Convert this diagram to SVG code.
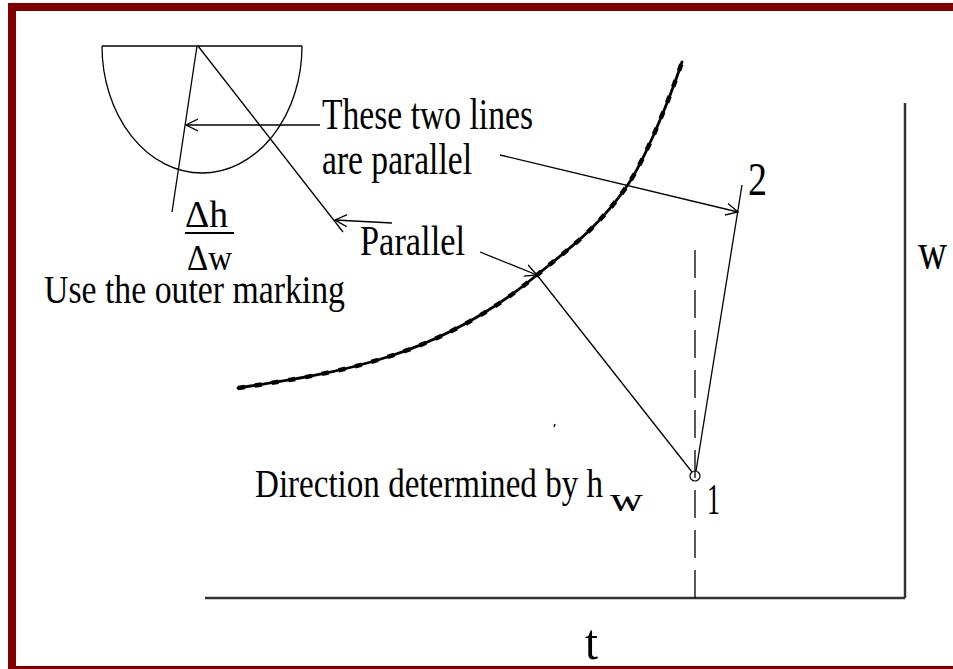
<svg xmlns="http://www.w3.org/2000/svg" width="953" height="669" viewBox="0 0 953 669">
<style>
.t{font-family:"Liberation Serif","Times New Roman",serif;fill:#000}
.ln{stroke:#000;stroke-width:1.3;fill:none}
.ax{stroke:#333;stroke-width:2.5;fill:none}
</style>
<defs>
<marker id="arr" markerUnits="userSpaceOnUse" markerWidth="14" markerHeight="14" refX="12" refY="6" orient="auto" viewBox="0 0 14 12">
<path d="M0,0 L12,6 L0,12" fill="none" stroke="#000" stroke-width="1.3"/>
</marker>
</defs>
<rect x="0" y="0" width="953" height="669" fill="#fff"/>
<rect x="12" y="7" width="950" height="663" fill="none" stroke="#800000" stroke-width="8"/>

<g id="protractor">
<line class="ln" x1="102" y1="46" x2="302" y2="46" stroke-width="1.6"/>
<path class="ln" d="M102,46 A100,127 0 0 0 302,46"/>
</g>

<g id="saturation-curve">
<path fill="none" stroke="#000" stroke-width="2.8" stroke-linecap="round" d="M238,388 C338,373 437,358 537,275 C567,250 597,229.5 627,186 C645,160 670,98 682,62"/>
<path fill="none" stroke="#000" stroke-width="4.5" stroke-dasharray="7,10" d="M238,388 C338,373 437,358 537,275 C567,250 597,229.5 627,186 C645,160 670,98 682,62"/>
</g>

<g id="axes">
<line class="ax" x1="205" y1="598" x2="905" y2="598"/>
<line class="ax" x1="905" y1="103" x2="905" y2="598"/>
<line class="ln" x1="695" y1="250" x2="695" y2="598" stroke-dasharray="28,12"/>
</g>

<g id="point1">
<circle cx="695" cy="476" r="5" fill="none" stroke="#000" stroke-width="1.2"/>
</g>

<g id="connectors">
<line class="ln" x1="197" y1="46" x2="172" y2="212"/>
<line class="ln" x1="198" y1="46" x2="343" y2="232"/>
<line class="ln" x1="320" y1="125" x2="186" y2="125" marker-end="url(#arr)"/>
<line class="ln" x1="392" y1="223" x2="335" y2="220" marker-end="url(#arr)"/>
<line class="ln" x1="500" y1="155" x2="738" y2="212" marker-end="url(#arr)"/>
<line class="ln" x1="480" y1="252" x2="537" y2="275" marker-end="url(#arr)"/>
<line class="ln" x1="537" y1="275" x2="692" y2="472"/>
<line class="ln" x1="696" y1="471" x2="742" y2="185"/>
<line class="ln" x1="555" y1="424" x2="554" y2="427" stroke-width="1.5"/>
<line x1="185" y1="233" x2="234" y2="233" stroke="#000" stroke-width="2"/>
</g>

<g id="labels">
<text class="t" x="322" y="129" font-size="44" textLength="211" lengthAdjust="spacingAndGlyphs">These two lines</text>
<text class="t" x="322" y="174" font-size="44" textLength="150" lengthAdjust="spacingAndGlyphs">are parallel</text>
<text class="t" x="360" y="255" font-size="42" textLength="105" lengthAdjust="spacingAndGlyphs">Parallel</text>
<text class="t" x="185" y="227" font-size="38" textLength="43" lengthAdjust="spacingAndGlyphs">Δh</text>
<text class="t" x="187" y="270" font-size="35" textLength="45" lengthAdjust="spacingAndGlyphs">Δw</text>
<text class="t" x="44" y="303" font-size="40" textLength="301" lengthAdjust="spacingAndGlyphs">Use the outer marking</text>
<text class="t" x="255" y="497" font-size="40" textLength="348" lengthAdjust="spacingAndGlyphs">Direction determined by h</text>
<text class="t" x="610" y="511" font-size="34" textLength="33" lengthAdjust="spacingAndGlyphs">w</text>
<text class="t" x="707" y="514" font-size="44" textLength="13" lengthAdjust="spacingAndGlyphs">1</text>
<text class="t" x="748" y="195" font-size="46" textLength="19" lengthAdjust="spacingAndGlyphs">2</text>
<text class="t" x="918" y="268" font-size="50" textLength="29" lengthAdjust="spacingAndGlyphs">w</text>
<text class="t" x="585" y="659" font-size="50" textLength="13" lengthAdjust="spacingAndGlyphs">t</text>
</g>
</svg>
